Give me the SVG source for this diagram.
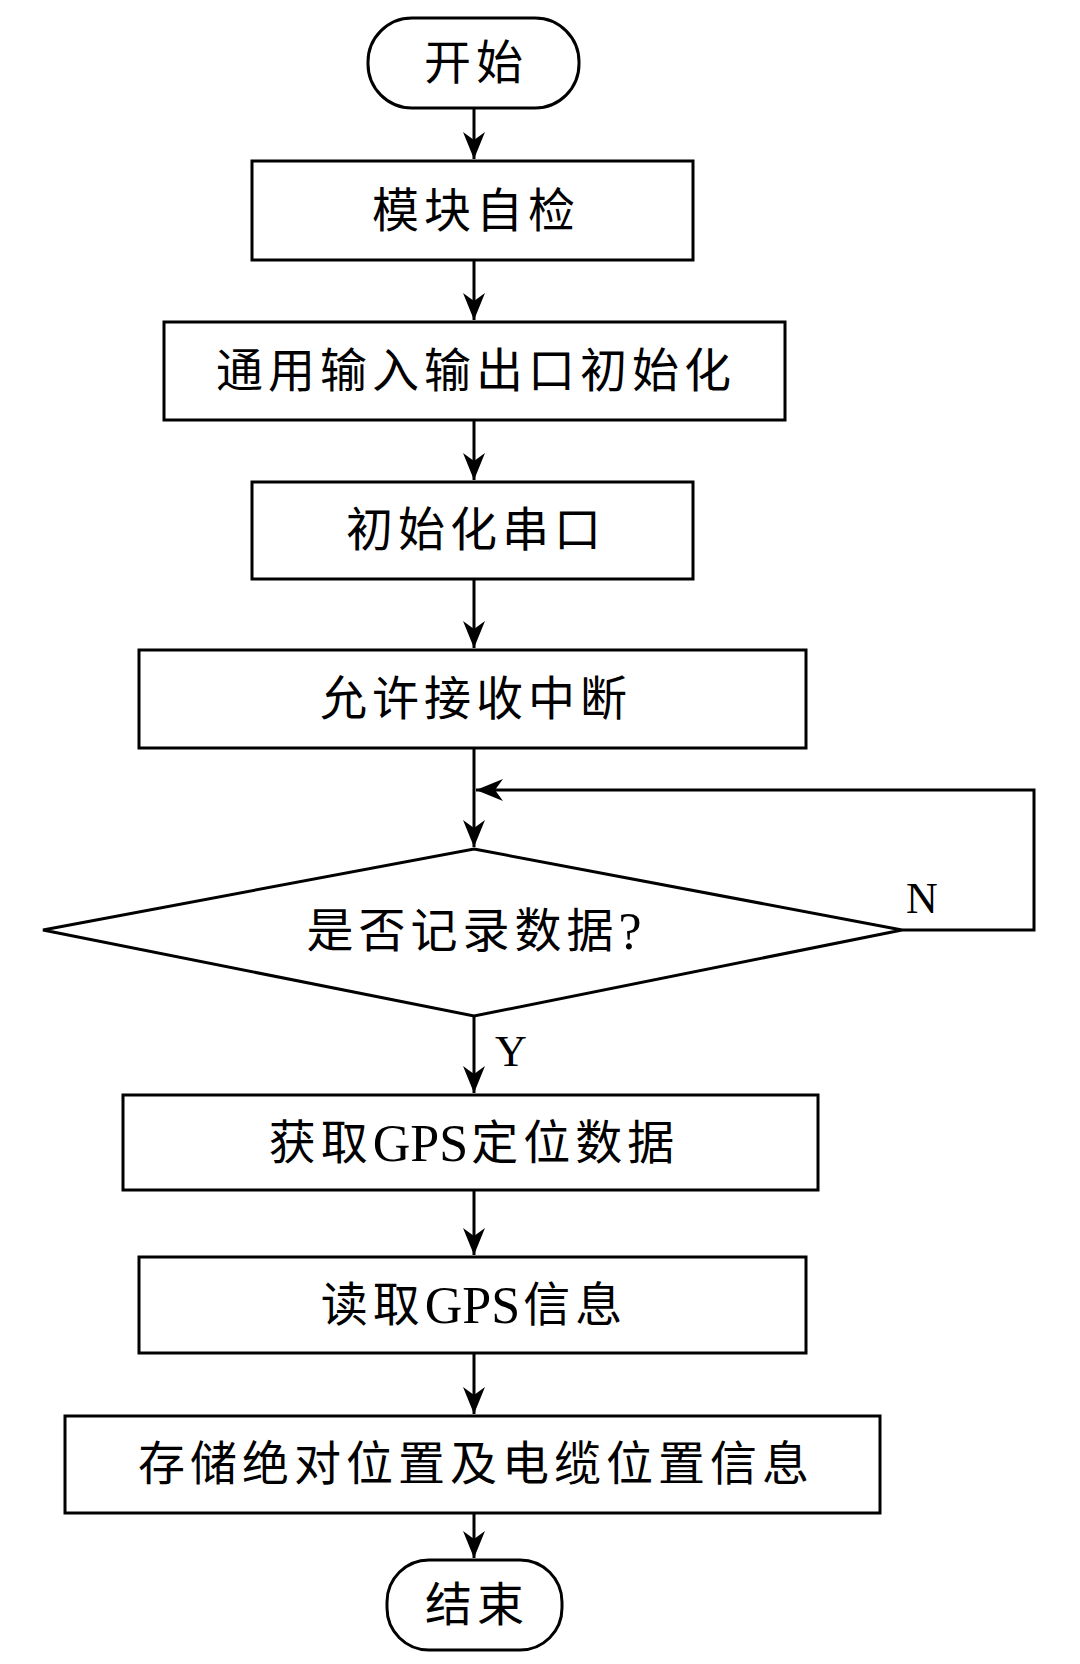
<svg xmlns="http://www.w3.org/2000/svg" width="1080" height="1664" viewBox="0 0 1080 1664">
<style>
.s{fill:#fff;stroke:#000;stroke-width:3}
.t{font-family:"Liberation Serif","Noto Sans CJK SC",serif;font-size:47px;fill:#000;text-anchor:middle;dominant-baseline:central;letter-spacing:5px}
.g{font-size:52px;letter-spacing:0}
.l{font-family:"Liberation Serif",serif;font-size:44px;fill:#000}
.c{fill:none;stroke:#000;stroke-width:3}
</style>
<defs>
<marker id="a" markerUnits="userSpaceOnUse" markerWidth="30" markerHeight="26" viewBox="-28 -13 30 26" refX="0" refY="0" orient="auto">
<path d="M0,0 L-27,-11 L-19,0 L-27,11 Z" fill="#000"/>
</marker>
</defs>
<rect width="1080" height="1664" fill="#fff"/>
<g id="connectors">
<line class="c" x1="474" y1="108" x2="474" y2="159" marker-end="url(#a)"/>
<line class="c" x1="474" y1="260" x2="474" y2="320" marker-end="url(#a)"/>
<line class="c" x1="474" y1="420" x2="474" y2="480" marker-end="url(#a)"/>
<line class="c" x1="474" y1="579" x2="474" y2="648" marker-end="url(#a)"/>
<line class="c" x1="474" y1="748" x2="474" y2="847" marker-end="url(#a)"/>
<polyline class="c" points="902,930 1034,930 1034,790 476,790" marker-end="url(#a)"/>
<line class="c" x1="474" y1="1016" x2="474" y2="1093" marker-end="url(#a)"/>
<line class="c" x1="474" y1="1190" x2="474" y2="1255" marker-end="url(#a)"/>
<line class="c" x1="474" y1="1353" x2="474" y2="1414" marker-end="url(#a)"/>
<line class="c" x1="474" y1="1513" x2="474" y2="1558" marker-end="url(#a)"/>
<text class="l" x="906" y="913">N</text>
<text class="l" x="495" y="1066">Y</text>
</g>
<g id="start">
<rect class="s" x="368" y="18" width="211" height="90" rx="44" ry="44"/>
<text class="t" x="476" y="63">开始</text>
</g>
<g id="n1">
<rect class="s" x="252" y="161" width="441" height="99"/>
<text class="t" x="476" y="211">模块自检</text>
</g>
<g id="n2">
<rect class="s" x="164" y="322" width="621" height="98"/>
<text class="t" x="476" y="371">通用输入输出口初始化</text>
</g>
<g id="n3">
<rect class="s" x="252" y="482" width="441" height="97"/>
<text class="t" x="476" y="530">初始化串口</text>
</g>
<g id="n4">
<rect class="s" x="139" y="650" width="667" height="98"/>
<text class="t" x="476" y="699">允许接收中断</text>
</g>
<g id="d1">
<polygon class="s" points="474,849 902,930 474,1016 43,930"/>
<text class="t" x="474" y="931">是否记录数据<tspan class="g">?</tspan></text>
</g>
<g id="n5">
<rect class="s" x="123" y="1095" width="695" height="95"/>
<text class="t" x="474" y="1143">获取<tspan class="g">GPS</tspan><tspan dx="3">定位数据</tspan></text>
</g>
<g id="n6">
<rect class="s" x="139" y="1257" width="667" height="96"/>
<text class="t" x="474" y="1305">读取<tspan class="g">GPS</tspan><tspan dx="3">信息</tspan></text>
</g>
<g id="n7">
<rect class="s" x="65" y="1416" width="815" height="97"/>
<text class="t" x="476" y="1464">存储绝对位置及电缆位置信息</text>
</g>
<g id="end">
<rect class="s" x="387" y="1560" width="175" height="90" rx="42" ry="42"/>
<text class="t" x="477" y="1605">结束</text>
</g>
</svg>
